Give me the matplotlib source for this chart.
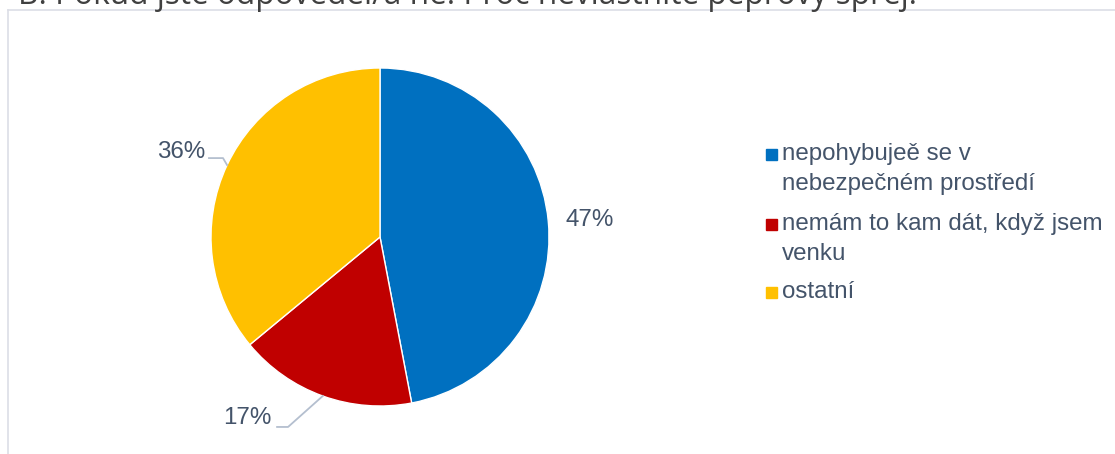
import numpy as np
import matplotlib
matplotlib.use("Agg")
import matplotlib.pyplot as plt
from matplotlib.lines import Line2D
from matplotlib.patches import Rectangle

# data
title = "B. Pokud jste odpověděl/a ne. Proč nevlastníte pepřový sprej."
categories = ["nepohybujeě se v\nnebezpečném prostředí",
              "nemám to kam dát, když jsem\nvenku",
              "ostatní"]
shares = [47, 17, 36]
colors = ["#0070C0", "#C00000", "#FFC000"]

TXT = "#44546A"
W, H = 1115, 454
fig = plt.figure(figsize=(W / 100, H / 100), dpi=100)

# chart frame (top + left edge only visible in the crop)
frame_c = "#DCDEE6"
fig.add_artist(Line2D([8 / W, 1], [1 - 10 / H, 1 - 10 / H], color=frame_c, lw=1.2))
fig.add_artist(Line2D([8 / W, 8 / W], [1 - 10 / H, 0], color=frame_c, lw=1.2))

fig.text(18 / W, 1 - 4.5 / H, title, fontsize=22.8, family="Open Sans",
         color="#404040", va="baseline", ha="left")

# pie: centre (380, 237) px, radius 169 px
cx, cy, r = 380, 237, 169
ax = fig.add_axes([(cx - r) / W, (H - cy - r) / H, 2 * r / W, 2 * r / H])
wedges, _ = ax.pie(shares, colors=colors, startangle=90, counterclock=False,
                   radius=1.0, wedgeprops=dict(edgecolor="white", linewidth=1))
ax.set_xlim(-1, 1)
ax.set_ylim(-1, 1)
ax.set_aspect("equal")
ax.axis("off")

# label placement (data units) and optional leader elbow
label_pos = [(1.243, 0.10), (-0.787, -1.071), (-1.178, 0.503)]
elbows = [None, [(-0.544, -1.124), (-0.609, -1.124)],
          [(-0.929, 0.467), (-1.012, 0.467)]]
lead_c = "#B4BFCF"
for w, v, pos, el in zip(wedges, shares, label_pos, elbows):
    ax.text(pos[0], pos[1], f"{v}%", fontsize=17.4, family="Liberation Sans",
            color=TXT, ha="center", va="center", clip_on=False)
    if el is not None:
        mid = np.deg2rad((w.theta1 + w.theta2) / 2)
        xs = [np.cos(mid)] + [p[0] for p in el]
        ys = [np.sin(mid)] + [p[1] for p in el]
        ax.plot(xs, ys, color=lead_c, lw=1.3, clip_on=False)

# legend drawn manually so markers align with first line
leg_x = 782
leg_base = [160, 230, 298]  # baseline of first line, px
line_gap = 30
for lab, c, y in zip(categories, colors, leg_base):
    fig.add_artist(Rectangle(((leg_x - 16) / W, (H - y) / H), 11 / W, 11 / H,
                             color=c, transform=fig.transFigure))
    for i, line in enumerate(lab.split("\n")):
        fig.text(leg_x / W, 1 - (y + i * line_gap) / H, line, fontsize=17.4,
                 family="Liberation Sans", color=TXT, ha="left", va="baseline")

fig.savefig("out.png", dpi=100)
